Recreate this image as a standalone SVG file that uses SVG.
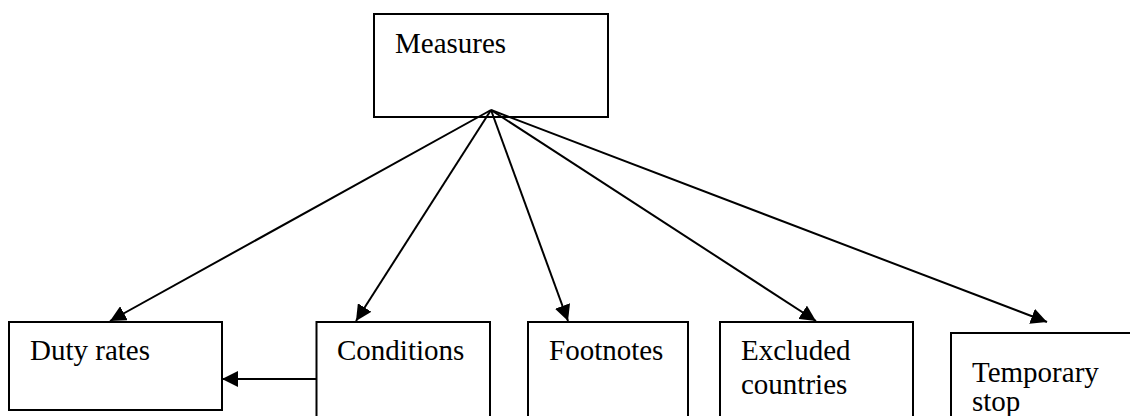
<svg xmlns="http://www.w3.org/2000/svg" width="1130" height="416" viewBox="0 0 1130 416">
  <style>
    .box { fill: #ffffff; stroke: #000000; stroke-width: 2; }
    .lbl { font-family: "Liberation Serif", "Times New Roman", serif; font-size: 29px; fill: #000000; }
    .conn { stroke: #000000; stroke-width: 2; fill: none; marker-end: url(#arrow); }
  </style>
  <defs>
    <marker id="arrow" markerUnits="userSpaceOnUse" markerWidth="18" markerHeight="16" refX="16" refY="8" orient="auto">
      <path d="M0,0 L16,8 L0,16 Z" fill="#000000"/>
    </marker>
  </defs>
  <rect width="1130" height="416" fill="#ffffff"/>

  <g id="node-measures">
    <rect class="box" x="374" y="14" width="234" height="103"/>
    <text class="lbl" x="395" y="53">Measures</text>
  </g>
  <g id="node-duty-rates">
    <rect class="box" x="9" y="322" width="213" height="88"/>
    <text class="lbl" x="30" y="360">Duty rates</text>
  </g>
  <g id="node-conditions">
    <rect class="box" x="316.5" y="322" width="173.5" height="110"/>
    <text class="lbl" x="337" y="360">Conditions</text>
  </g>
  <g id="node-footnotes">
    <rect class="box" x="528" y="322" width="160" height="110"/>
    <text class="lbl" x="549" y="360">Footnotes</text>
  </g>
  <g id="node-excluded-countries">
    <rect class="box" x="720" y="322" width="193" height="110"/>
    <text class="lbl" x="741" y="360">Excluded</text>
    <text class="lbl" x="741" y="394">countries</text>
  </g>
  <g id="node-temporary-stop">
    <rect class="box" x="951" y="333" width="200" height="110"/>
    <text class="lbl" x="972" y="382">Temporary</text>
    <text class="lbl" x="972" y="411">stop</text>
  </g>

  <g id="connectors">
    <line class="conn" x1="491" y1="110" x2="110" y2="321"/>
    <line class="conn" x1="491" y1="110" x2="356" y2="321"/>
    <line class="conn" x1="491" y1="110" x2="568" y2="321"/>
    <line class="conn" x1="491" y1="110" x2="816" y2="321"/>
    <line class="conn" x1="491" y1="110" x2="1047" y2="322"/>
    <line class="conn" x1="316.5" y1="379" x2="222" y2="379"/>
  </g>
</svg>
